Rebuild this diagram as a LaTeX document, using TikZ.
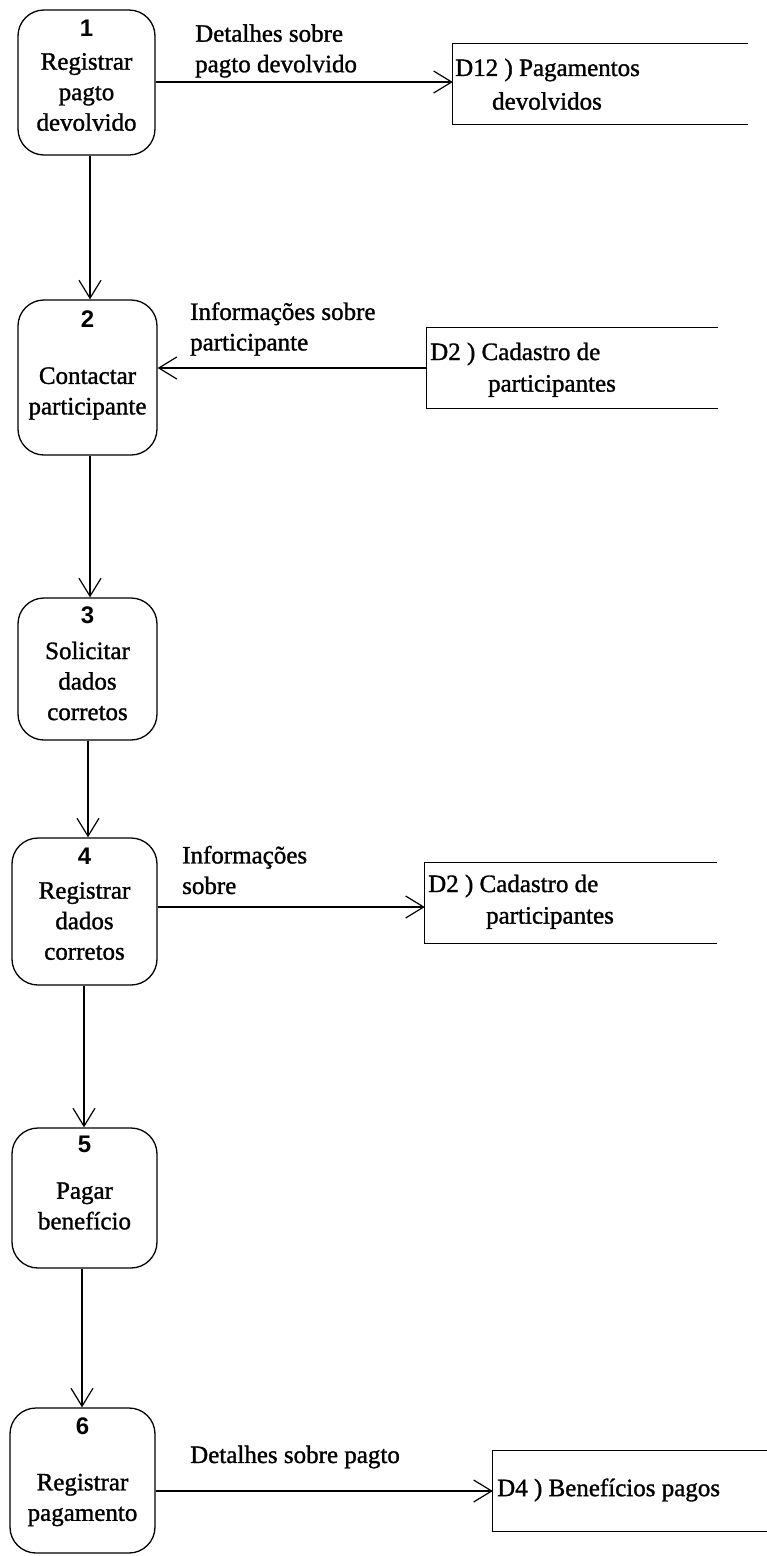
\documentclass[tikz,border=0pt]{standalone}
\usepackage{fontspec}
\setmainfont{Liberation Serif}[FakeBold=1.2]
\newfontfamily\numfont{Liberation Sans}
\usetikzlibrary{arrows.meta}
\begin{document}
\begin{tikzpicture}[x=1pt, y=-1pt,
  proc/.style={draw, line width=1.3pt, rounded corners=26pt, inner sep=0pt},
  store/.style={inner sep=0pt},
  storeline/.style={draw, line width=1.3pt},
  txt/.style={inner sep=0pt, align=center, font=\fontsize{25}{30.5}\selectfont},
  lbl/.style={inner sep=0pt, align=left, anchor=west, font=\fontsize{25}{30.5}\selectfont},
  num/.style={inner sep=0pt, font=\numfont\bfseries\fontsize{24}{24}\selectfont},
  flow/.style={draw, line width=1.2pt, -{Straight Barb[length=18pt, width=22pt, line width=1.2pt]}}
]
\useasboundingbox (0,0) rectangle (766,1556);
\fill[white] (0,0) rectangle (766,1556);

% processes
\node[proc, minimum width=137pt, minimum height=145pt] (p1) at (86.5,82.5) {};
\node[proc, minimum width=139pt, minimum height=155pt] (p2) at (87.5,377.5) {};
\node[proc, minimum width=139pt, minimum height=142pt] (p3) at (87.5,669) {};
\node[proc, minimum width=145pt, minimum height=147pt] (p4) at (84.5,911.5) {};
\node[proc, minimum width=145pt, minimum height=140pt] (p5) at (84.5,1198) {};
\node[proc, minimum width=145pt, minimum height=145pt] (p6) at (82.5,1480.5) {};

% process numbers and names
\node[num] (n1) at (86.5,28) {1};
\node[txt] (t1) at (86.5,92) {Registrar\\pagto\\devolvido};
\node[num] (n2) at (87.5,319) {2};
\node[txt] (t2) at (87.5,393.5) {Contactar\\participante};
\node[num] (n3) at (87.5,615) {3};
\node[txt] (t3) at (87.5,681) {Solicitar\\dados\\corretos};
\node[num] (n4) at (84.5,856) {4};
\node[txt] (t4) at (84.5,921) {Registrar\\dados\\corretos};
\node[num] (n5) at (84.5,1144) {5};
\node[txt] (t5) at (84.5,1206) {Pagar\\benefício};
\node[num] (n6) at (82.5,1426) {6};
\node[txt] (t6) at (82.5,1500) {Registrar\\pagamento};

% data stores (open on the right)
\node[store, minimum width=295pt, minimum height=80pt] (s1) at (600.5,84) {};
\node[store, minimum width=291pt, minimum height=80pt] (s2) at (572.5,368) {};
\node[store, minimum width=292pt, minimum height=80pt] (s3) at (571,903) {};
\node[store, minimum width=280pt, minimum height=81pt] (s4) at (633,1491) {};
\foreach \s in {s1,s2,s3,s4}
  \draw[storeline] (\s.north east) -- (\s.north west) -- (\s.south west) -- (\s.south east);

\node[lbl] (st1a) at (455,70) {D12 ) Pagamentos};
\node[txt] (st1b) at (547,101) {devolvidos};
\node[lbl] (st2a) at (430,354) {D2 ) Cadastro de};
\node[txt] (st2b) at (552,386) {participantes};
\node[lbl] (st3a) at (428,886) {D2 ) Cadastro de};
\node[txt] (st3b) at (550,918) {participantes};
\node[lbl] (st4a) at (497,1490) {D4 ) Benefícios pagos};

% flow labels
\node[lbl] (f1) at (195,51) {Detalhes sobre\\pagto devolvido};
\node[lbl] (f2) at (190,329) {Informações sobre\\participante};
\node[lbl] (f3) at (182,870) {Informações\\sobre};
\node[lbl] (f4) at (190,1457) {Detalhes sobre pagto};

% flows
\draw[flow] (p1.south -| 90,0) -- (p2.north -| 90,0);
\draw[flow] (p2.south -| 90,0) -- (p3.north -| 90,0);
\draw[flow] (p3.south -| 88,0) -- (p4.north -| 88,0);
\draw[flow] (p4.south -| 84,0) -- (p5.north -| 84,0);
\draw[flow] (p5.south -| 82,0) -- (p6.north -| 82,0);

\draw[flow] (p1.east |- 0,82) -- (s1.west |- 0,82);
\draw[flow] (s2.west) -- (s2.west -| p2.east);
\draw[flow] (p4.east |- 0,907) -- (s3.west |- 0,907);
\draw[flow] (p6.east |- s4.west) -- (s4.west);
\end{tikzpicture}
\end{document}
